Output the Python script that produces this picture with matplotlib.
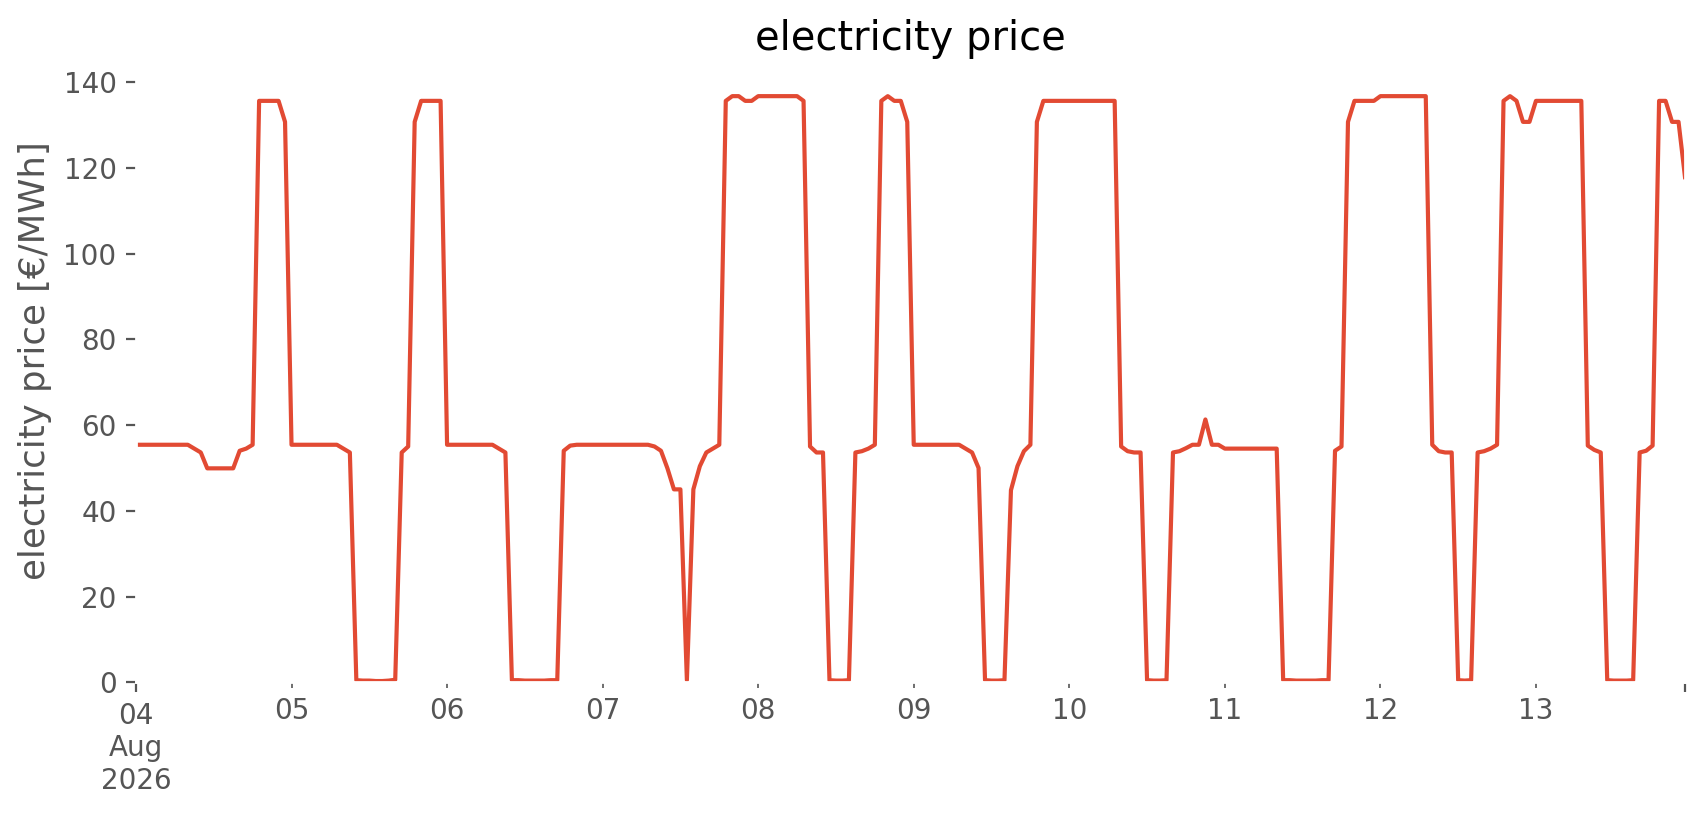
import matplotlib
matplotlib.use("Agg")
import matplotlib.pyplot as plt
import pandas as pd
import numpy as np

plt.style.use("ggplot")

# hourly electricity price [EUR/MWh], one list per day (hours 0..23)
aug04 = [55.4, 55.4, 55.4, 55.4, 55.4, 55.4, 55.4, 55.4, 55.4, 54.5, 53.6, 49.9,
         49.9, 49.9, 49.9, 49.9, 54.0, 54.5, 55.4, 135.6, 135.6, 135.6, 135.6, 130.7]
aug05 = [55.4, 55.4, 55.4, 55.4, 55.4, 55.4, 55.4, 55.4, 54.5, 53.6, 0.5, 0.4,
         0.4, 0.3, 0.3, 0.4, 0.6, 53.6, 55.0, 130.7, 135.6, 135.6, 135.6, 135.6]
aug06 = [55.4, 55.4, 55.4, 55.4, 55.4, 55.4, 55.4, 55.4, 54.5, 53.6, 0.5, 0.5,
         0.4, 0.4, 0.4, 0.4, 0.5, 0.5, 54.0, 55.2, 55.4, 55.4, 55.4, 55.4]
aug07 = [55.4, 55.4, 55.4, 55.4, 55.4, 55.4, 55.4, 55.4, 55.0, 54.0, 49.9, 45.0,
         45.0, 0.5, 45.0, 50.4, 53.6, 54.5, 55.4, 135.6, 136.7, 136.7, 135.6, 135.6]
aug08 = [136.7, 136.7, 136.7, 136.7, 136.7, 136.7, 136.7, 135.6, 55.0, 53.6, 53.6, 0.5,
         0.4, 0.4, 0.5, 53.6, 53.9, 54.5, 55.4, 135.6, 136.7, 135.6, 135.6, 130.7]
aug09 = [55.4, 55.4, 55.4, 55.4, 55.4, 55.4, 55.4, 55.4, 54.5, 53.6, 50.0, 0.5,
         0.4, 0.4, 0.5, 44.8, 50.4, 53.9, 55.4, 130.7, 135.6, 135.6, 135.6, 135.6]
aug10 = [135.6, 135.6, 135.6, 135.6, 135.6, 135.6, 135.6, 135.6, 55.0, 53.9, 53.6, 53.6,
         0.5, 0.4, 0.4, 0.5, 53.6, 53.9, 54.6, 55.4, 55.4, 61.3, 55.4, 55.4]
aug11 = [54.5, 54.5, 54.5, 54.5, 54.5, 54.5, 54.5, 54.5, 54.5, 0.5, 0.5, 0.4,
         0.4, 0.4, 0.4, 0.5, 0.5, 54.0, 55.0, 130.7, 135.6, 135.6, 135.6, 135.6]
aug12 = [136.7, 136.7, 136.7, 136.7, 136.7, 136.7, 136.7, 136.7, 55.4, 53.9, 53.6, 53.6,
         0.5, 0.4, 0.5, 53.6, 53.9, 54.5, 55.4, 135.6, 136.7, 135.6, 130.7, 130.7]
aug13 = [135.6, 135.6, 135.6, 135.6, 135.6, 135.6, 135.6, 135.6, 55.2, 54.2, 53.6, 0.5,
         0.4, 0.4, 0.4, 0.5, 53.6, 54.0, 55.2, 135.6, 135.6, 130.7, 130.7, 117.8]

start = "2026-08-04 00:00"
prices = aug04 + aug05 + aug06 + aug07 + aug08 + aug09 + aug10 + aug11 + aug12 + aug13
index = pd.date_range(start, periods=len(prices), freq="h")
series = pd.Series(prices, index=index)

fig = plt.figure(figsize=(8.53, 4.075), dpi=200)
ax = fig.add_axes([0.0797, 0.1628, 0.908, 0.755])
ax.set_facecolor("white")
series.plot(ax=ax, color="#E24A33", linewidth=1.5)
ax.set_ylim(0, 143.5)
ax.set_title("electricity price")
ax.set_ylabel("electricity price [€/MWh]", fontsize=12.8)
ax.yaxis.label.set_y(0.523)
ax.set_xlabel("")
ax.grid(False)
fig.savefig("out.png", dpi=200, facecolor="white")
